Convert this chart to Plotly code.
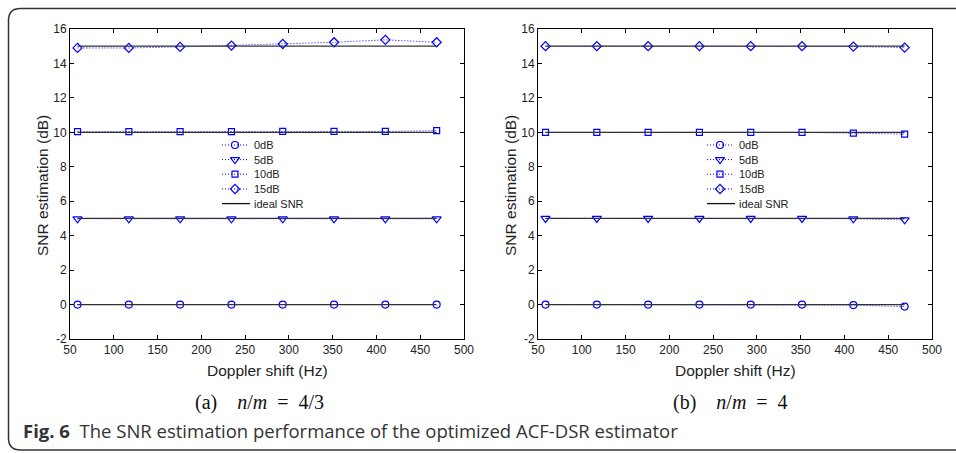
import plotly.graph_objects as go

W, H = 956, 453

# ---------------- data ----------------
doppler_hz = [58.59, 117.19, 175.78, 234.38, 292.97, 351.56, 410.16, 468.75]
series_names = ["0dB", "5dB", "10dB", "15dB"]
ideal_levels = [0, 5, 10, 15]

# (a) n/m = 4/3
snr0_a = [0.0, 0.0, 0.0, 0.0, 0.0, 0.0, 0.0, 0.0]
snr5_a = [4.98, 4.98, 4.98, 4.98, 4.98, 4.98, 4.98, 4.98]
snr10_a = [10.04, 10.04, 10.04, 10.04, 10.05, 10.05, 10.05, 10.1]
snr15_a = [14.9, 14.9, 14.96, 15.04, 15.13, 15.23, 15.37, 15.23]

# (b) n/m = 4
snr0_b = [0.0, 0.0, 0.0, 0.0, 0.0, 0.0, -0.03, -0.12]
snr5_b = [5.0, 5.0, 5.0, 5.0, 5.0, 5.0, 4.98, 4.92]
snr10_b = [10.0, 10.0, 10.0, 10.0, 10.0, 10.0, 9.95, 9.9]
snr15_b = [15.0, 15.0, 15.0, 15.0, 15.0, 15.0, 14.98, 14.92]

x_ticks = [50, 100, 150, 200, 250, 300, 350, 400, 450, 500]
x_tick_labels = ["50", "100", "150", "200", "250", "300", "350", "400", "450", "500"]
y_ticks = [-2, 0, 2, 4, 6, 8, 10, 12, 14, 16]
y_tick_labels = ["-2", "0", "2", "4", "6", "8", "10", "12", "14", "16"]

x_title = "Doppler shift (Hz)"
y_title = "SNR estimation (dB)"

# ---------------- styles ----------------
BLUE = "#0000ff"
IDEAL = "#333333"
DOT = "1px,2px"
symbols = ["circle-open", "triangle-down-open", "square-open", "diamond-open"]
msizes = [7, 8, 6, 7]
SANS = "Arial, Liberation Sans, sans-serif"
TICKFONT = dict(family=SANS, size=12, color="#222")
LEGFONT = dict(family=SANS, size=11, color="#222")
TITLEFONT = dict(family=SANS, size=15.5, color="#222")


def px_x(p):
    return p / W


def px_y(p):
    return 1 - p / H


fig = go.Figure()

panels = [
    ("x", "y", [snr0_a, snr5_a, snr10_a, snr15_a]),
    ("x2", "y2", [snr0_b, snr5_b, snr10_b, snr15_b]),
]

for xa, ya, data in panels:
    for i, vals in enumerate(data):
        fig.add_trace(go.Scatter(
            x=doppler_hz, y=vals, xaxis=xa, yaxis=ya, mode="lines+markers",
            name=series_names[i], showlegend=False,
            line=dict(color=BLUE, width=1, dash=DOT),
            marker=dict(symbol=symbols[i], size=msizes[i], color=BLUE,
                        line=dict(color=BLUE, width=1.2)),
        ))
    for lvl in ideal_levels:
        fig.add_trace(go.Scatter(
            x=[doppler_hz[0], doppler_hz[-1]], y=[lvl, lvl], xaxis=xa, yaxis=ya,
            mode="lines", name="ideal SNR", showlegend=False,
            line=dict(color=IDEAL, width=1.3),
        ))

# ---------------- manual legends (hidden helper axes, pixel units) -------------
legend_specs = [("x3", "y3", 222), ("x4", "y4", 707)]
row_y = [0, 14.6, 29.2, 44, 58.6]
legend_labels = series_names + ["ideal SNR"]
annotations = []
for xa, ya, left in legend_specs:
    for r, lab in enumerate(legend_labels):
        yy = row_y[r]
        if r < 4:
            fig.add_trace(go.Scatter(
                x=[0, 26], y=[yy, yy], xaxis=xa, yaxis=ya, mode="lines",
                showlegend=False, hoverinfo="skip",
                line=dict(color=BLUE, width=1, dash=DOT)))
            fig.add_trace(go.Scatter(
                x=[13], y=[yy], xaxis=xa, yaxis=ya, mode="markers",
                showlegend=False, hoverinfo="skip",
                marker=dict(symbol=symbols[r], size=msizes[r], color=BLUE,
                            line=dict(color=BLUE, width=1.2))))
        else:
            fig.add_trace(go.Scatter(
                x=[0, 28], y=[yy, yy], xaxis=xa, yaxis=ya, mode="lines",
                showlegend=False, hoverinfo="skip",
                line=dict(color="#111", width=1.3)))
        annotations.append(dict(
            x=30, y=yy, xref=xa, yref=ya, text=lab, showarrow=False,
            xanchor="left", yanchor="middle", font=LEGFONT))

axis_common = dict(
    showgrid=False, zeroline=False, showline=True, linecolor="black", linewidth=1,
    mirror="allticks", ticks="inside", ticklen=4, tickwidth=1, tickcolor="black",
    tickfont=TICKFONT, automargin=False,
)

x1_dom = [px_x(70), px_x(464)]
x2_dom = [px_x(538), px_x(932)]
y_dom = [px_y(339), px_y(29)]

layout = dict(
    width=W, height=H, margin=dict(l=0, r=0, t=0, b=0, autoexpand=False),
    paper_bgcolor="white", plot_bgcolor="white", showlegend=False,
    xaxis=dict(domain=x1_dom, range=[50, 500], tickvals=x_ticks, ticktext=x_tick_labels,
               anchor="y", **axis_common),
    yaxis=dict(domain=y_dom, range=[-2, 16], tickvals=y_ticks, ticktext=y_tick_labels,
               anchor="x", **axis_common),
    xaxis2=dict(domain=x2_dom, range=[50, 500], tickvals=x_ticks, ticktext=x_tick_labels,
                anchor="y2", **axis_common),
    yaxis2=dict(domain=y_dom, range=[-2, 16], tickvals=y_ticks, ticktext=y_tick_labels,
                anchor="x2", **axis_common),
)
hidden = dict(visible=False, showgrid=False, zeroline=False, fixedrange=True)
for k, (xa, ya, left) in enumerate(legend_specs):
    xn = "xaxis" + xa[1:]
    yn = "yaxis" + ya[1:]
    layout[xn] = dict(domain=[px_x(left), px_x(left + 110)], range=[0, 110],
                      anchor=ya, **hidden)
    layout[yn] = dict(domain=[px_y(215), px_y(140)], range=[70, -5],
                      anchor=xa, **hidden)

fig.update_layout(**layout)

# axis titles
for cx in (267, 735):
    annotations.append(dict(x=px_x(cx), y=px_y(370), xref="paper", yref="paper",
                            showarrow=False, text=x_title, font=TITLEFONT,
                            xanchor="center", yanchor="middle"))
for cx in (42, 510):
    annotations.append(dict(x=px_x(cx), y=px_y(186), xref="paper", yref="paper",
                            showarrow=False, text=y_title, font=TITLEFONT, textangle=-90,
                            xanchor="center", yanchor="middle"))

# captions
SERIF = dict(family="Times New Roman, Liberation Serif, serif", size=20, color="#111")
annotations += [
    dict(x=px_x(259), y=px_y(402), xref="paper", yref="paper", showarrow=False,
         text="(a)&nbsp;&nbsp;&nbsp;&nbsp;<i>n</i>/<i>m</i>&nbsp;&nbsp;=&nbsp;&nbsp;4/3",
         font=SERIF, xanchor="center", yanchor="middle"),
    dict(x=px_x(730), y=px_y(402), xref="paper", yref="paper", showarrow=False,
         text="(b)&nbsp;&nbsp;&nbsp;&nbsp;<i>n</i>/<i>m</i>&nbsp;&nbsp;=&nbsp;&nbsp;4",
         font=SERIF, xanchor="center", yanchor="middle"),
    dict(x=px_x(21), y=px_y(430), xref="paper", yref="paper", showarrow=False,
         text="<b>Fig. 6</b>&nbsp; The SNR estimation performance of the optimized ACF-DSR estimator",
         font=dict(family="Open Sans, Noto Sans, sans-serif", size=18.5, color="#333"),
         xanchor="left", yanchor="middle"),
]
fig.update_layout(annotations=annotations)

# rounded frame around the figure
x0, y0, x1, y1 = px_x(8.5), px_y(450), px_x(990), px_y(8.5)
rx, ry = 12 / W, 12 / H
frame = (f"M {x1},{y1} L {x0 + rx},{y1} Q {x0},{y1} {x0},{y1 - ry} "
         f"L {x0},{y0 + ry} Q {x0},{y0} {x0 + rx},{y0} L {x1},{y0}")
fig.add_shape(type="path", path=frame, xref="paper", yref="paper",
              line=dict(color="#333", width=1.5))

fig.write_html(
    "out.html",
    config={"displayModeBar": False},
    post_script="document.body.style.margin='0';document.body.style.overflow='hidden';",
)
